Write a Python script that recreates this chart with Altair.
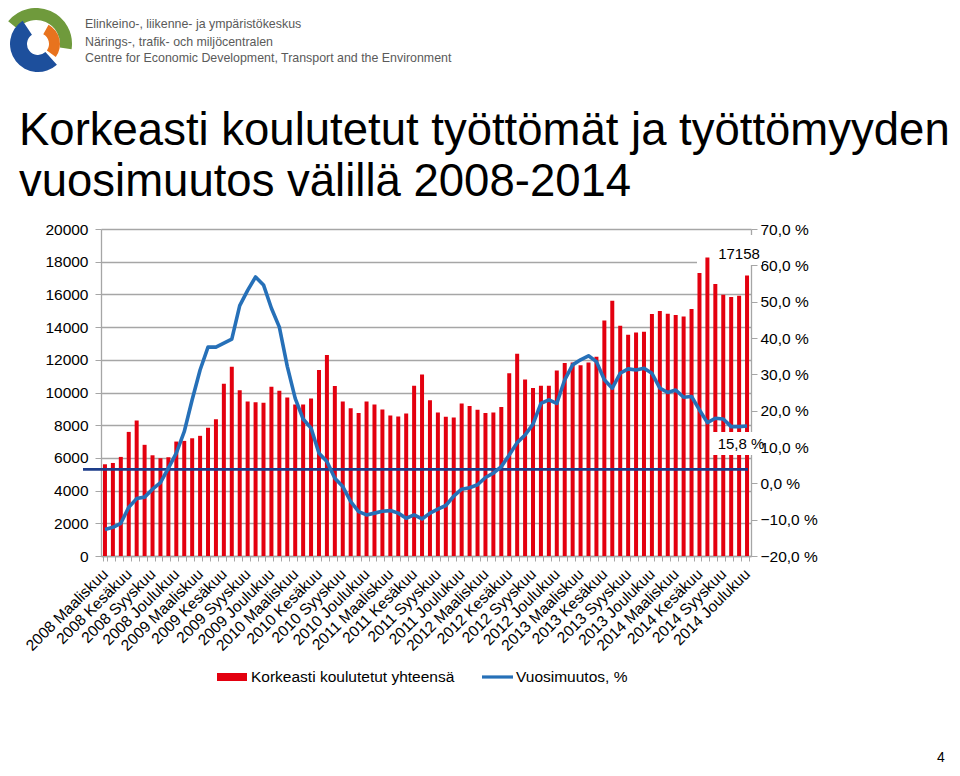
import json
import altair as alt
import pandas as pd

# ---------------- data ----------------
years = [2008, 2009, 2010, 2011, 2012, 2013, 2014]
month_names = ["Tammikuu", "Helmikuu", "Maaliskuu", "Huhtikuu", "Toukokuu", "Kesäkuu",
               "Heinäkuu", "Elokuu", "Syyskuu", "Lokakuu", "Marraskuu", "Joulukuu"]
categories = [f"{y} {m}" for y in years for m in month_names][2:]  # 2008 Maaliskuu .. 2014 Joulukuu
tick_labels = [c for c in categories if c.split(" ")[1] in ("Maaliskuu", "Kesäkuu", "Syyskuu", "Joulukuu")]

total_2008 = [5610, 5690, 6060, 7590, 8290, 6800, 6160, 5980, 6040, 7000]
total_2009 = [7040, 7200, 7350, 7840, 8370, 10530, 11570, 10140, 9450, 9410, 9370, 10350]
total_2010 = [10100, 9690, 9270, 9270, 9630, 11370, 12290, 10390, 9450, 9040, 8740, 9450]
total_2011 = [9270, 8960, 8590, 8530, 8710, 10410, 11100, 9530, 8780, 8510, 8470, 9330]
total_2012 = [9180, 8940, 8740, 8780, 9120, 11180, 12370, 10800, 10280, 10410, 10410, 11350]
total_2013 = [11800, 11840, 11670, 11840, 12180, 14410, 15610, 14080, 13530, 13670, 13710, 14800]
total_2014 = [14980, 14820, 14740, 14650, 15100, 17310, 18250, 16630, 15980, 15840, 15920, 17158]

change_2008 = [-12.7, -12.1, -11.0, -6.6, -4.2, -3.8, -1.6, 0.2, 4.2, 8.3]
change_2009 = [14.2, 23.0, 31.2, 37.5, 37.5, 38.6, 39.7, 48.9, 53.1, 56.8, 54.6, 48.2]
change_2010 = [43.0, 32.2, 23.4, 17.7, 15.2, 8.3, 6.0, 1.4, -0.9, -5.0, -7.8, -8.7]
change_2011 = [-8.2, -7.7, -7.5, -8.2, -9.6, -8.7, -9.8, -8.2, -7.1, -6.1, -3.5, -1.6]
change_2012 = [-1.2, -0.4, 1.6, 2.8, 4.6, 7.8, 11.2, 13.3, 16.3, 22.0, 23.0, 22.0]
change_2013 = [28.5, 32.6, 34.0, 35.1, 33.5, 28.5, 26.2, 30.3, 31.5, 31.2, 31.7, 30.3]
change_2014 = [26.2, 25.0, 25.7, 23.7, 23.9, 20.2, 16.7, 17.9, 17.7, 15.6, 15.6, 15.8]

reference_level = [5300]  # dark horizontal line (left scale)

totals = total_2008 + total_2009 + total_2010 + total_2011 + total_2012 + total_2013 + total_2014
changes = change_2008 + change_2009 + change_2010 + change_2011 + change_2012 + change_2013 + change_2014

df = pd.DataFrame({"month": categories, "total": totals, "change": changes})
ref_df = pd.DataFrame({"level": reference_level})
one = pd.DataFrame({"a": [0]})

# ---------------- style ----------------
FONT = "Liberation Sans"
RED = "#e3000f"
BLUE = "#2670b8"
NAVY = "#1d3d8a"
GRID = "#a6a6a6"

left_scale = alt.Scale(domain=[0, 20000], nice=False)
right_scale = alt.Scale(domain=[-20, 70], nice=False)

label_expr = "indexof(" + json.dumps(tick_labels, ensure_ascii=False) + ", datum.value) >= 0 ? datum.value : ''"

x_enc = alt.X(
    "month:N", sort=categories,
    scale=alt.Scale(paddingInner=0.5, paddingOuter=0.25),
    axis=alt.Axis(title=None, labelAngle=-45, labelAlign="right", labelBaseline="middle",
                  labelFont=FONT, labelFontSize=15.5, labelColor="black",
                  labelExpr=label_expr, labelOverlap=False, labelPadding=10,
                  tickBand="extent", tickColor=GRID, tickSize=5,
                  domainColor=GRID, domainWidth=1.3, grid=False),
)

bars = alt.Chart(df).mark_bar(color=RED, size=4).encode(
    x=x_enc,
    y=alt.Y("total:Q", scale=left_scale,
            axis=alt.Axis(title=None, orient="left", values=list(range(0, 20001, 2000)), format="d",
                          grid=True, gridColor=GRID, gridWidth=1.3,
                          domainColor=GRID, domainWidth=1.3, tickColor=GRID, tickSize=6,
                          labelPadding=7, labelFont=FONT, labelFontSize=15.5, labelColor="black")),
)

ref_rule = alt.Chart(ref_df).mark_rule(color=NAVY, strokeWidth=2.6).encode(
    x=alt.value(-18), x2=alt.value(647),
    y=alt.Y("level:Q", scale=left_scale, axis=None),
)

line = alt.Chart(df).mark_line(color=BLUE, strokeWidth=3.6, strokeJoin="round").encode(
    x=alt.X("month:N", sort=categories),
    y=alt.Y("change:Q", scale=right_scale,
            axis=alt.Axis(title=None, orient="right", values=list(range(-20, 71, 10)),
                          labelExpr="replace(format(datum.value, '.1f'), '.', ',') + ' %'",
                          grid=False, domainColor=GRID, domainWidth=1.3, tickColor=GRID, tickSize=6,
                          labelPadding=3, labelFont=FONT, labelFontSize=15.5, labelColor="black")),
)

# label boxes
box_top = alt.Chart(one).mark_rect(color="white").encode(
    x=alt.value(596), x2=alt.value(661), y=alt.value(6), y2=alt.value(36))
box_end = alt.Chart(one).mark_rect(color="white").encode(
    x=alt.value(610), x2=alt.value(656), y=alt.value(203), y2=alt.value(226))

last_total = pd.DataFrame({"t": [str(totals[-1])]})
last_change = pd.DataFrame({"t": [f"{changes[-1]:.1f}".replace(".", ",") + " %"]})
lbl_total = alt.Chart(last_total).mark_text(font=FONT, fontSize=15, color="black").encode(
    x=alt.value(638), y=alt.value(25), text="t:N")
lbl_change = alt.Chart(last_change).mark_text(font=FONT, fontSize=15, color="black").encode(
    x=alt.value(640), y=alt.value(215), text="t:N")

# legend (manual)
leg_bar = alt.Chart(one).mark_rect(color=RED).encode(
    x=alt.value(116), x2=alt.value(146), y=alt.value(444), y2=alt.value(452))
leg_bar_t = alt.Chart(one).mark_text(font=FONT, fontSize=15.5, align="left", baseline="middle", color="black").encode(
    x=alt.value(150), y=alt.value(448), text=alt.value("Korkeasti koulutetut yhteensä"))
leg_line = alt.Chart(one).mark_rule(color=BLUE, strokeWidth=3.2).encode(
    x=alt.value(381), x2=alt.value(412), y=alt.value(448))
leg_line_t = alt.Chart(one).mark_text(font=FONT, fontSize=15.5, align="left", baseline="middle", color="black").encode(
    x=alt.value(415), y=alt.value(448), text=alt.value("Vuosimuutos, %"))

# titles / header
title1 = alt.Chart(one).mark_text(font=FONT, fontSize=45.5, align="left", baseline="alphabetic", color="black").encode(
    x=alt.value(-82), y=alt.value(-84), text=alt.value("Korkeasti koulutetut työttömät ja työttömyyden"))
title2 = alt.Chart(one).mark_text(font=FONT, fontSize=45.5, align="left", baseline="alphabetic", color="black").encode(
    x=alt.value(-82), y=alt.value(-33), text=alt.value("vuosimuutos välillä 2008-2014"))

hdr_lines = ["Elinkeino-, liikenne- ja ympäristökeskus",
             "Närings-, trafik- och miljöcentralen",
             "Centre for Economic Development, Transport and the Environment"]
hdr_y = [-205, -187, -171]
header = [alt.Chart(one).mark_text(font=FONT, fontSize=12.4, align="left", baseline="middle", color="#5a5a5a").encode(
    x=alt.value(-16), y=alt.value(yy), text=alt.value(t)) for t, yy in zip(hdr_lines, hdr_y)]

# logo (approximation)
logo_green = alt.Chart(one).mark_arc(color="#6f9a3c", theta=5.4, theta2=8.0, radius=36, radius2=24).encode(
    x=alt.value(-65), y=alt.value(-185))
logo_blue = alt.Chart(one).mark_arc(color="#1d4f9c", theta=2.4, theta2=5.7, radius=28, radius2=11).encode(
    x=alt.value(-63), y=alt.value(-185))
logo_orange = alt.Chart(one).mark_arc(color="#e8731e", theta=0.5, theta2=2.2, radius=22, radius2=11).encode(
    x=alt.value(-63), y=alt.value(-185))

page_no = alt.Chart(one).mark_text(font=FONT, fontSize=14, align="center", baseline="alphabetic", color="black").encode(
    x=alt.value(840), y=alt.value(533), text=alt.value("4"))

chart = alt.layer(
    box_top, bars, box_end, ref_rule, line, lbl_total, lbl_change,
    leg_bar, leg_bar_t, leg_line, leg_line_t, title1, title2, *header,
    logo_green, logo_blue, logo_orange, page_no,
).resolve_scale(y="independent").properties(
    width=650, height=327,
    autosize=alt.AutoSizeParams(type="none"),
    padding={"left": 93, "top": 221, "right": 201, "bottom": 208},
    background="white",
).configure_view(stroke=None)

chart.save("out.html", embed_options={"renderer": "svg", "actions": False})
